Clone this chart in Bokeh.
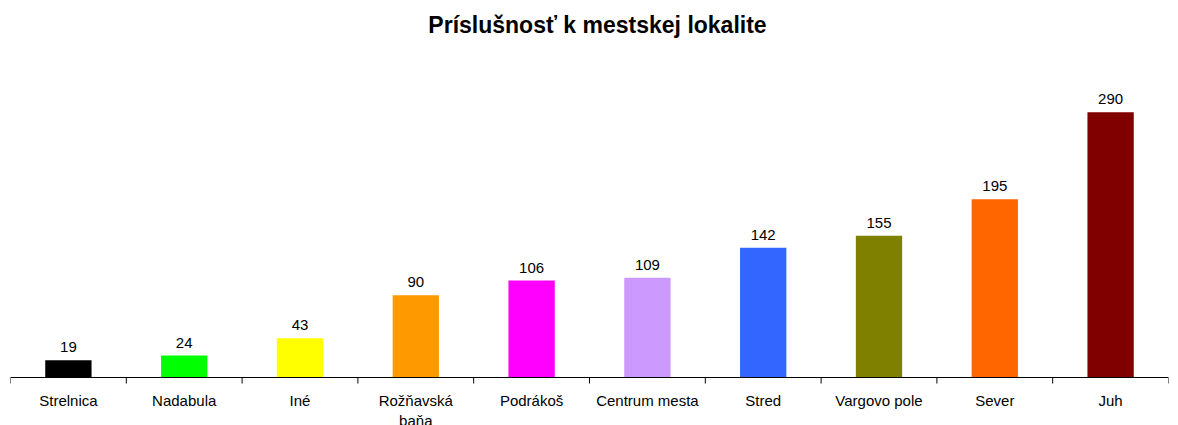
import math
from bokeh.plotting import figure
from bokeh.models import ColumnDataSource, Range1d, Span, Label
from bokeh.core.properties import value
from bokeh.embed import file_html
from bokeh.resources import INLINE

title = "Príslušnosť k mestskej lokalite"
categories = ["Strelnica", "Nadabula", "Iné", "Rožňavská\nbaňa", "Podrákoš",
              "Centrum mesta", "Stred", "Vargovo pole", "Sever", "Juh"]
counts = [19, 24, 43, 90, 106, 109, 142, 155, 195, 290]
colors = ["#000000", "#00FF00", "#FFFF00", "#FF9900", "#FF00FF",
          "#CC99FF", "#3366FF", "#808000", "#FF6600", "#800000"]

n = len(categories)
xs = [i + 0.5 for i in range(n)]
src = ColumnDataSource(dict(x=xs, top=counts, color=colors,
                            lbl=[str(c) for c in counts], cat=categories))
bounds = ColumnDataSource(dict(x=list(range(n + 1)), y=[0] * (n + 1)))

H = 425
y_max = 350.0            # value scale top (plot area top)
top_px, zero_px = 57, 377
per_px = y_max / (zero_px - top_px)
y_lo = -(H - zero_px) * per_px
y_hi = y_max + top_px * per_px

p = figure(width=1178, height=H, output_backend="svg", toolbar_location=None,
           x_range=Range1d(0, n), y_range=Range1d(y_lo, y_hi),
           min_border_left=10, min_border_right=10, min_border_top=0,
           min_border_bottom=0)

p.vbar(x="x", top="top", bottom=0, width=0.4, fill_color="color",
       line_color=None, source=src)
p.text(x="x", y="top", text="lbl", text_align="center", text_baseline="bottom",
       y_offset=-8, text_font=value("Liberation Sans"), text_font_size="15px",
       text_color="#000000", source=src)

# category axis: baseline, boundary ticks and labels
p.add_layout(Span(location=0, dimension="width", line_color="#000000",
                  line_width=1))
p.ray(x="x", y="y", length=6, length_units="screen", angle=-math.pi / 2,
      line_color="#000000", line_width=1, source=bounds)
p.text(x="x", y=0, text="cat", text_align="center", text_baseline="top",
       y_offset=14, text_line_height=1.2, text_font=value("Liberation Sans"),
       text_font_size="15px", text_color="#000000", source=src)

p.add_layout(Label(x=n / 2, y=H - 24, x_units="data", y_units="screen",
                   x_offset=8, text=title, text_align="center",
                   text_baseline="alphabetic", text_font="Liberation Sans",
                   text_font_size="23px", text_font_style="bold",
                   text_color="#000000"))

p.outline_line_color = None
p.xgrid.visible = False
p.ygrid.visible = False
p.xaxis.visible = False
p.yaxis.visible = False

open("out.html", "w").write(file_html(p, INLINE))
